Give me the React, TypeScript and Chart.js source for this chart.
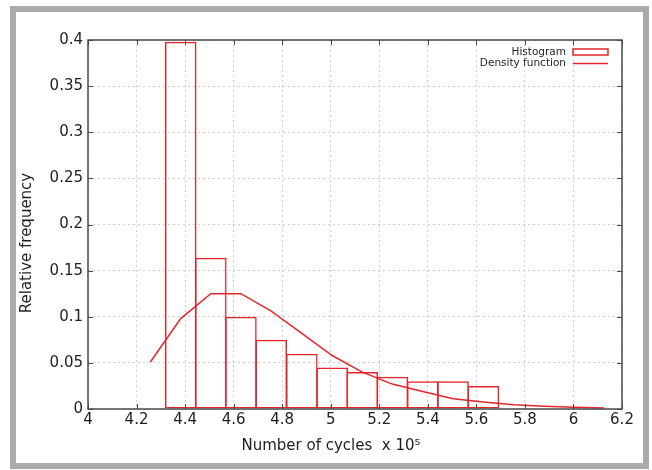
import React, { useEffect, useRef } from "react";
import { Chart, registerables } from "chart.js";

Chart.register(...registerables);

// ---- data ----
const binCenters = [4.382, 4.506, 4.63, 4.755, 4.881, 5.006, 5.13, 5.254, 5.379, 5.504, 5.629];
const binFreq = [0.398, 0.164, 0.1, 0.075, 0.06, 0.045, 0.04, 0.035, 0.03, 0.03, 0.025];

const densityX = [4.257, 4.382, 4.506, 4.63, 4.755, 4.881, 5.006, 5.13, 5.254, 5.379, 5.504, 5.629, 5.754, 5.878, 6.003, 6.127];
const densityY = [0.051, 0.098, 0.125, 0.125, 0.106, 0.082, 0.058, 0.04, 0.027, 0.019, 0.011, 0.0075, 0.0045, 0.003, 0.0018, 0.0011];

const xTickValues = [4, 4.2, 4.4, 4.6, 4.8, 5, 5.2, 5.4, 5.6, 5.8, 6, 6.2];
const xTickLabels = ["4", "4.2", "4.4", "4.6", "4.8", "5", "5.2", "5.4", "5.6", "5.8", "6", "6.2"];
const yTickValues = [0, 0.05, 0.1, 0.15, 0.2, 0.25, 0.3, 0.35, 0.4];
const yTickLabels = ["0", "0.05", "0.1", "0.15", "0.2", "0.25", "0.3", "0.35", "0.4"];

const seriesLabels = ["Histogram", "Density function"];
const xTitle = "Number of cycles  x 10\u2075";
const yTitle = "Relative frequency";

// ---- style ----
const RED = "#e3262c";
const AXIS = "#4a4a4a";
const GRID = "#cfcfcf";
const TEXT = "#1e1e1e";
const FONT_FAMILY = "'DejaVu Sans', 'Liberation Sans', Arial, sans-serif";

const decorPlugin = {
  id: "decor",
  afterDatasetsDraw(chart: any) {
    const { ctx, chartArea: a, scales } = chart;
    const xs = scales.x;
    const ys = scales.y;
    ctx.save();
    // box
    ctx.strokeStyle = AXIS;
    ctx.lineWidth = 1.5;
    ctx.strokeRect(a.left, a.top, a.right - a.left, a.bottom - a.top);
    // inward ticks
    ctx.lineWidth = 1;
    const tl = 5;
    ctx.beginPath();
    xTickValues.forEach((v) => {
      const px = Math.round(xs.getPixelForValue(v)) + 0.5;
      ctx.moveTo(px, a.bottom);
      ctx.lineTo(px, a.bottom - tl);
      ctx.moveTo(px, a.top);
      ctx.lineTo(px, a.top + tl);
    });
    yTickValues.forEach((v) => {
      const py = Math.round(ys.getPixelForValue(v)) + 0.5;
      ctx.moveTo(a.left, py);
      ctx.lineTo(a.left + tl, py);
      ctx.moveTo(a.right, py);
      ctx.lineTo(a.right - tl, py);
    });
    ctx.stroke();

    // legend
    ctx.font = `10.5px ${FONT_FAMILY}`;
    ctx.fillStyle = TEXT;
    ctx.textAlign = "right";
    ctx.textBaseline = "middle";
    const lx = a.right - 56;
    const y1 = a.top + 12;
    const y2 = a.top + 23.5;
    ctx.fillText(seriesLabels[0], lx, y1);
    ctx.fillText(seriesLabels[1], lx, y2);
    ctx.strokeStyle = RED;
    ctx.lineWidth = 1.5;
    ctx.strokeRect(lx + 7, y1 - 3, 35, 6);
    ctx.beginPath();
    ctx.moveTo(lx + 7, y2);
    ctx.lineTo(lx + 42, y2);
    ctx.stroke();

    // axis titles
    ctx.font = `15px ${FONT_FAMILY}`;
    ctx.fillStyle = TEXT;
    ctx.textAlign = "center";
    ctx.textBaseline = "middle";
    ctx.fillText(xTitle, 331, 446);
    ctx.save();
    ctx.translate(27.5, 243);
    ctx.rotate(-Math.PI / 2);
    ctx.fillText(yTitle, 0, 0);
    ctx.restore();
    ctx.restore();
  },
};

export default function App() {
  const ref = useRef<HTMLCanvasElement | null>(null);

  useEffect(() => {
    if (!ref.current) return;
    const tickFont = { family: FONT_FAMILY, size: 15 };
    const chart = new Chart(ref.current, {
      type: "bar",
      data: {
        datasets: [
          {
            type: "bar",
            label: seriesLabels[0],
            data: binCenters.map((x, i) => ({ x, y: binFreq[i] })),
            backgroundColor: "rgba(0,0,0,0)",
            borderColor: RED,
            borderWidth: 1.5,
            borderSkipped: false,
            barPercentage: 1.05,
            categoryPercentage: 1,
            order: 2,
          } as any,
          {
            type: "line",
            label: seriesLabels[1],
            data: densityX.map((x, i) => ({ x, y: densityY[i] })),
            borderColor: RED,
            borderWidth: 1.5,
            pointRadius: 0,
            tension: 0,
            fill: false,
            order: 1,
          } as any,
        ],
      },
      options: {
        animation: false,
        responsive: false,
        maintainAspectRatio: false,
        layout: { padding: { left: 0, top: 40, right: 30, bottom: 0 } },
        plugins: { legend: { display: false }, tooltip: { enabled: false } },
        scales: {
          x: {
            type: "linear",
            min: 4,
            max: 6.2,
            offset: false,
            afterBuildTicks: (s: any) => {
              s.ticks = xTickValues.map((v) => ({ value: v }));
            },
            afterFit: (s: any) => {
              s.height = 61;
            },
            ticks: {
              autoSkip: false,
              maxRotation: 0,
              padding: 2,
              color: TEXT,
              font: tickFont,
              callback: (v: any) => xTickLabels[xTickValues.indexOf(v)],
            },
            grid: { color: GRID, lineWidth: 1, drawTicks: false, offset: false },
            border: { display: false, dash: [2, 3] },
          },
          y: {
            type: "linear",
            min: 0,
            max: 0.4,
            afterBuildTicks: (s: any) => {
              s.ticks = yTickValues.map((v) => ({ value: v }));
            },
            afterFit: (s: any) => {
              s.width = 88;
            },
            ticks: {
              padding: 5,
              color: TEXT,
              font: tickFont,
              callback: (v: any) => yTickLabels[yTickValues.indexOf(v)],
            },
            grid: { color: GRID, lineWidth: 1, drawTicks: false },
            border: { display: false, dash: [2, 3] },
          },
        },
      } as any,
      plugins: [decorPlugin],
    });
    return () => chart.destroy();
  }, []);

  return (
    <div style={{ position: "fixed", left: 0, top: 0, width: 652, height: 470, background: "#fff" }}>
      <div
        style={{
          position: "absolute",
          left: 10,
          top: 6,
          width: 639,
          height: 463,
          border: "6px solid #a8aaad",
          boxSizing: "border-box",
        }}
      />
      <canvas
        ref={ref}
        width={652}
        height={470}
        style={{ position: "absolute", left: 0, top: 0, width: 652, height: 470 }}
      />
    </div>
  );
}
